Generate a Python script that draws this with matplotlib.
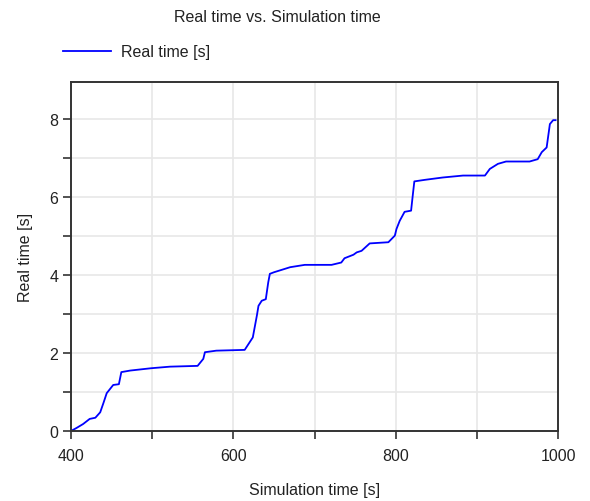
import matplotlib
matplotlib.use("Agg")
import matplotlib.pyplot as plt
from matplotlib.ticker import MultipleLocator

plt.rcParams['font.family'] = ['Liberation Sans', 'DejaVu Sans']

sim_time = [400, 407, 415, 423, 430, 436, 440, 444, 452, 459, 462, 473, 499, 522, 556,
            563, 565, 579, 614, 624, 629, 631, 635, 640, 643, 645, 650, 670, 688, 721,
            733, 737, 748, 752, 758, 768, 791, 799, 801, 805, 811, 819, 821, 823, 836,
            858, 883, 910, 916, 926, 936, 965, 975, 980, 986, 988, 990, 994, 997]
real_time = [0.0, 0.08, 0.18, 0.31, 0.34, 0.48, 0.72, 0.97, 1.18, 1.2, 1.51, 1.55, 1.61, 1.65, 1.67,
             1.85, 2.02, 2.06, 2.08, 2.40, 2.96, 3.21, 3.34, 3.38, 3.81, 4.03, 4.07, 4.20, 4.26, 4.26,
             4.32, 4.43, 4.52, 4.58, 4.62, 4.81, 4.84, 5.01, 5.18, 5.39, 5.62, 5.65, 6.03, 6.40, 6.44,
             6.50, 6.55, 6.55, 6.72, 6.85, 6.91, 6.91, 6.97, 7.15, 7.27, 7.57, 7.87, 7.97, 7.97]

fs = 11.5
fig = plt.figure(figsize=(5.9, 5.02), dpi=100)
ax = fig.add_axes([71/590, 70/502, 487/590, 349/502])

line, = ax.plot(sim_time, real_time, color=(0, 0, 1), lw=1.3)

ax.set_xlim(400, 1000)
ax.set_ylim(0, 349/39)
ax.xaxis.set_major_locator(MultipleLocator(200))
ax.xaxis.set_minor_locator(MultipleLocator(100))
ax.yaxis.set_major_locator(MultipleLocator(2))
ax.yaxis.set_minor_locator(MultipleLocator(1))
ax.grid(True, which='both', color='#e8e8e8', lw=1.2)
ax.set_axisbelow(True)
ax.tick_params(which='both', direction='out', color='#333333', width=1.2, labelsize=fs, labelcolor='#222222')
ax.tick_params(which='both', length=6)
ax.tick_params(axis='x', pad=6)
ax.tick_params(axis='y', pad=3)
for s in ax.spines.values():
    s.set_color('#333333')
    s.set_linewidth(1.4)

ax.set_xlabel('Simulation time [s]', fontsize=fs, color='#222222', labelpad=14)
ax.set_ylabel('Real time [s]', fontsize=fs, color='#222222', labelpad=12)

fig.text(277/590, 1 - 18/502, 'Real time vs. Simulation time', ha='center', va='center',
         fontsize=fs, color='#222222')
fig.legend([line], ['Real time [s]'], loc='center left', bbox_to_anchor=(49/590, 1 - 53/502),
           frameon=False, fontsize=fs, handlelength=3.0, handletextpad=0.6, labelcolor='#222222')

fig.savefig('out.png', dpi=100)
